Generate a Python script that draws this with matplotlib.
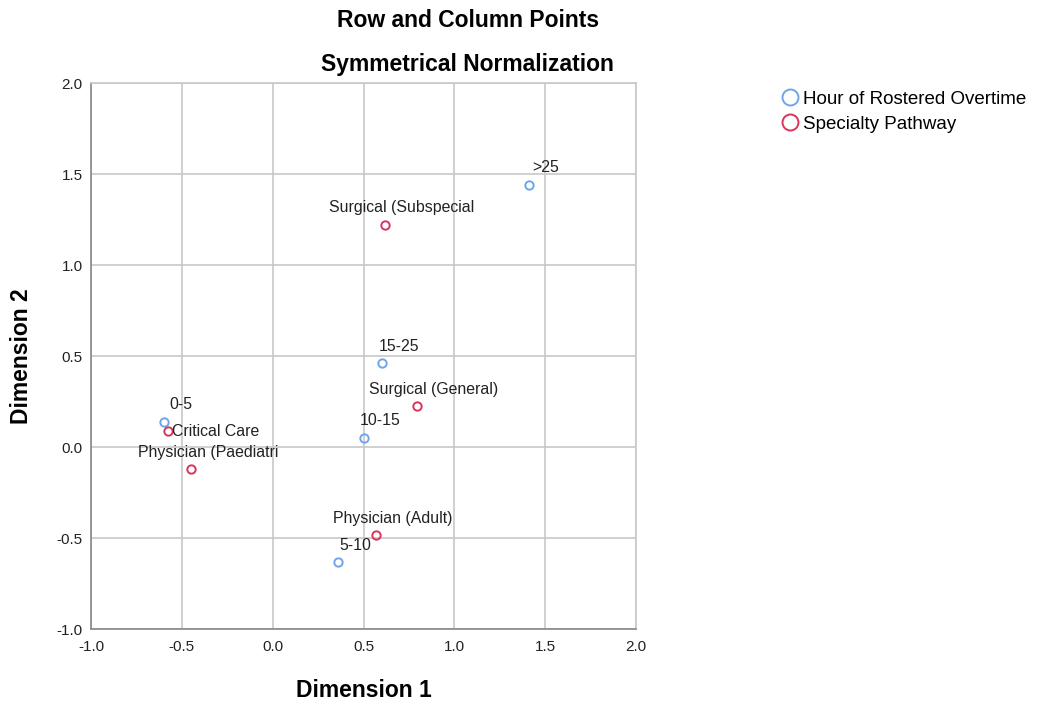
import matplotlib.pyplot as plt
from matplotlib.lines import Line2D

plt.rcParams['font.family'] = ['Liberation Sans', 'DejaVu Sans']

# row points (hours of rostered overtime)
row_labels = ['0-5', '5-10', '10-15', '15-25', '>25']
row_dim1 = [-0.60, 0.36, 0.50, 0.60, 1.41]
row_dim2 = [0.14, -0.634, 0.051, 0.459, 1.44]

# column points (specialty pathway)
col_labels = ['Critical Care', 'Physician (Adult)', 'Physician (Paediatri',
              'Surgical (General)', 'Surgical (Subspecial']
col_dim1 = [-0.576, 0.566, -0.448, 0.794, 0.619]
col_dim2 = [0.086, -0.486, -0.121, 0.225, 1.221]

blue = '#6fa6ea'
red = '#d9345c'

fig = plt.figure(figsize=(10.37, 7.04), dpi=100)
ax = fig.add_axes([0.0878, 0.1065, 0.5255, 0.7756])

ax.plot(row_dim1, row_dim2, 'o', ms=6, mfc='none', mec=blue, mew=1.4, zorder=3)
ax.plot(col_dim1, col_dim2, 'o', ms=6, mfc='none', mec=red, mew=1.4, zorder=3)

for lab, x, y in zip(row_labels + col_labels, row_dim1 + col_dim1, row_dim2 + col_dim2):
    if lab == 'Critical Care':
        # pushed to the right so it clears the 0-5 label
        ax.annotate(lab, (x, y), xytext=(3, 0), textcoords='offset points',
                    ha='left', va='center', fontsize=11.4, color='#222222')
    else:
        ax.annotate(lab, (x, y), xytext=(12.2, 12.2), textcoords='offset points',
                    ha='center', va='center', fontsize=11.4, color='#222222')

ax.set_xlim(-1.0, 2.0)
ax.set_ylim(-1.0, 2.0)
ax.set_xticks([-1.0, -0.5, 0.0, 0.5, 1.0, 1.5, 2.0])
ax.set_yticks([-1.0, -0.5, 0.0, 0.5, 1.0, 1.5, 2.0])
ax.set_xticklabels(['%.1f' % v for v in ax.get_xticks()])
ax.set_yticklabels(['%.1f' % v for v in ax.get_yticks()])
ax.tick_params(length=0, labelsize=11, colors='#222222')
ax.tick_params(axis='x', pad=8)
ax.tick_params(axis='y', pad=6)
ax.grid(True, color='#c8c8c8', lw=1.2)
ax.set_axisbelow(True)
for side in ['top', 'right']:
    ax.spines[side].set_color('#c8c8c8')
    ax.spines[side].set_linewidth(1.2)
for side in ['left', 'bottom']:
    ax.spines[side].set_color('#888888')
    ax.spines[side].set_linewidth(1.2)

ax.set_xlabel('Dimension 1', fontsize=16.5, fontweight='bold', va='center')
ax.set_ylabel('Dimension 2', fontsize=16.5, fontweight='bold', va='center')
ax.xaxis.set_label_coords(0.5, -0.112)
ax.yaxis.set_label_coords(-0.127, 0.5)

fig.text(0.451, 0.971, 'Row and Column Points', ha='center', va='center',
         fontsize=16.5, fontweight='bold')
fig.text(0.451, 0.909, 'Symmetrical Normalization', ha='center', va='center',
         fontsize=16.5, fontweight='bold')

handles = [Line2D([], [], ls='none', marker='o', ms=11.5, mfc='none', mec=blue, mew=1.4),
           Line2D([], [], ls='none', marker='o', ms=11.5, mfc='none', mec=red, mew=1.4)]
fig.legend(handles, ['Hour of Rostered Overtime', 'Specialty Pathway'],
           loc='upper left', bbox_to_anchor=(0.751, 0.871), frameon=False,
           fontsize=13.5, handletextpad=0.1, labelspacing=0.42, handlelength=1.2,
           borderaxespad=0, borderpad=0)

fig.savefig('out.png', dpi=100)
